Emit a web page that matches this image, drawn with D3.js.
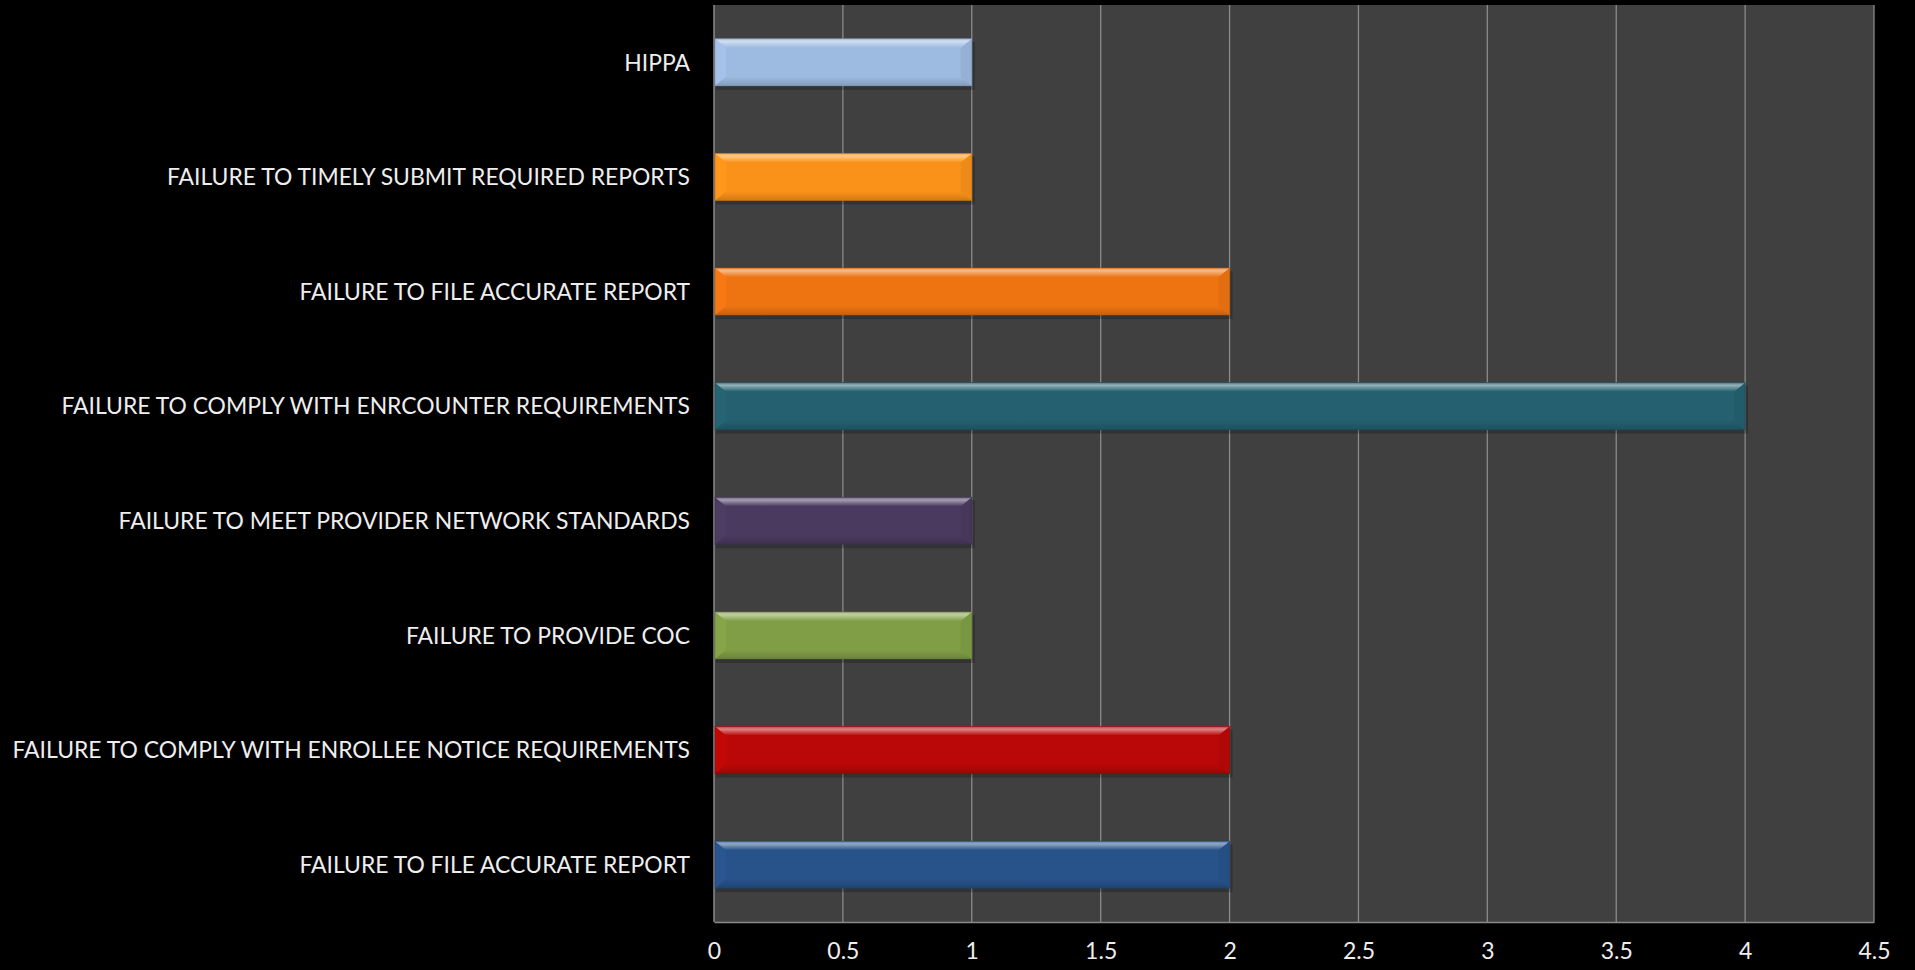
<!DOCTYPE html>
<html>
<head>
<meta charset="utf-8">
<script src="https://cdn.jsdelivr.net/npm/d3@7"></script>
<style>
  html, body { margin: 0; padding: 0; background: #000; }
  svg { display: block; }
  text { font-family: Lato, "Open Sans", sans-serif; fill: #eeeeee; }
</style>
</head>
<body>
<svg id="chart" width="1915" height="970"></svg>
<script>
// Categories listed from top to bottom
const categories = [
  "HIPPA",
  "FAILURE TO TIMELY SUBMIT REQUIRED REPORTS",
  "FAILURE TO FILE ACCURATE REPORT",
  "FAILURE TO COMPLY WITH ENRCOUNTER REQUIREMENTS",
  "FAILURE TO MEET PROVIDER NETWORK STANDARDS",
  "FAILURE TO PROVIDE COC",
  "FAILURE TO COMPLY WITH ENROLLEE NOTICE REQUIREMENTS",
  "FAILURE TO FILE ACCURATE REPORT "
];
const values = [1, 1, 2, 4, 1, 1, 2, 2];
const barColors = ["#9dbae0", "#fa9219", "#ee7412", "#24606f", "#4a3a60", "#809e45", "#ba0707", "#27528a"];
const xTicks = [0, 0.5, 1, 1.5, 2, 2.5, 3, 3.5, 4, 4.5];

const svg = d3.select("#chart");
const defs = svg.append("defs");
const plot = { left: 714, right: 1874, top: 5, bottom: 922 };

const x = d3.scaleLinear().domain([0, 4.5]).range([plot.left, plot.right]);
const y = d3.scaleBand().domain(categories).range([plot.top, plot.bottom]).paddingInner(0.59).paddingOuter(0.295);

// plot background
svg.append("rect")
  .attr("x", plot.left).attr("y", plot.top)
  .attr("width", plot.right - plot.left).attr("height", plot.bottom - plot.top)
  .attr("fill", "#404040");

// vertical gridlines
svg.append("g").selectAll("line").data(xTicks.slice(1)).join("line")
  .attr("x1", d => x(d)).attr("x2", d => x(d))
  .attr("y1", plot.top).attr("y2", plot.bottom)
  .attr("stroke", "#8a8a8a").attr("stroke-width", 1.3);

// axes
const xAxis = d3.axisBottom(x).tickValues(xTicks).tickSize(0).tickPadding(21).tickFormat(d3.format("~g"));
const gx = svg.append("g").attr("transform", `translate(0,${plot.bottom})`).call(xAxis);
gx.select(".domain").attr("stroke", "#8a8a8a").attr("stroke-width", 1.5);
gx.selectAll("text").attr("font-size", 23).attr("fill", "#eeeeee").attr("font-family", "Lato, 'Open Sans', sans-serif");

svg.append("line")
  .attr("x1", plot.left).attr("x2", plot.left)
  .attr("y1", plot.top).attr("y2", plot.bottom)
  .attr("stroke", "#8a8a8a").attr("stroke-width", 1.5);

// bevelled bars
const bars = svg.append("g");
categories.forEach((c, i) => {
  const x0 = x(0) + 1, x1 = x(values[i]);
  const y0 = y(c), h = y.bandwidth(), y1 = y0 + h;
  const base = d3.color(barColors[i]);
  const light = d3.interpolateRgb(base, "#ffffff")(0.5);
  const dark = base.darker(0.5).formatHex();
  const bx = 11, by = 9;

  const topId = `top${i}`, botId = `bot${i}`;
  const tg = defs.append("linearGradient").attr("id", topId).attr("x1", 0).attr("y1", 0).attr("x2", 0).attr("y2", 1);
  tg.append("stop").attr("offset", 0).attr("stop-color", d3.interpolateRgb(base, "#ffffff")(0.25));
  tg.append("stop").attr("offset", 0.3).attr("stop-color", light);
  tg.append("stop").attr("offset", 1).attr("stop-color", base.formatHex());
  const bg = defs.append("linearGradient").attr("id", botId).attr("x1", 0).attr("y1", 0).attr("x2", 0).attr("y2", 1);
  bg.append("stop").attr("offset", 0).attr("stop-color", base.formatHex());
  bg.append("stop").attr("offset", 1).attr("stop-color", dark);

  const g = bars.append("g");
  // soft shadow under the bar
  g.append("rect").attr("x", x0 + 1).attr("y", y0 + 3).attr("width", x1 - x0 + 2).attr("height", h + 1)
    .attr("fill", "#000").attr("opacity", 0.22);
  g.append("rect").attr("x", x0).attr("y", y0).attr("width", x1 - x0).attr("height", h).attr("fill", base.formatHex());
  // side bevels
  g.append("polygon").attr("points", [[x0, y0], [x0 + bx, y0 + by], [x0 + bx, y1 - by], [x0, y1]].join(" "))
    .attr("fill", base.brighter(0.12).formatHex());
  g.append("polygon").attr("points", [[x1, y0], [x1 - bx, y0 + by], [x1 - bx, y1 - by], [x1, y1]].join(" "))
    .attr("fill", base.darker(0.15).formatHex());
  // top and bottom bevels
  g.append("polygon").attr("points", [[x0, y0], [x1, y0], [x1 - bx, y0 + by], [x0 + bx, y0 + by]].join(" "))
    .attr("fill", `url(#${topId})`);
  g.append("polygon").attr("points", [[x0, y1], [x1, y1], [x1 - bx, y1 - by], [x0 + bx, y1 - by]].join(" "))
    .attr("fill", `url(#${botId})`);
  g.append("rect").attr("x", x0).attr("y", y0).attr("width", x1 - x0).attr("height", h)
    .attr("fill", "none").attr("stroke", base.darker(0.9).formatHex()).attr("stroke-width", 1).attr("opacity", 0.5);
});

// category labels
const labels = svg.append("g").selectAll("text").data(categories).join("text")
  .attr("x", 690)
  .attr("y", d => y(d) + y.bandwidth() / 2)
  .attr("dy", "0.36em")
  .attr("text-anchor", "end")
  .attr("font-size", 23)
  .text(d => d.trim());

// Calibri-like condensed width for the labels
const widest = d3.max(labels.nodes(), n => n.getComputedTextLength());
const sx = 678 / widest;
labels.attr("transform", `translate(690,0) scale(${sx},1) translate(-690,0)`);
</script>
</body>
</html>
